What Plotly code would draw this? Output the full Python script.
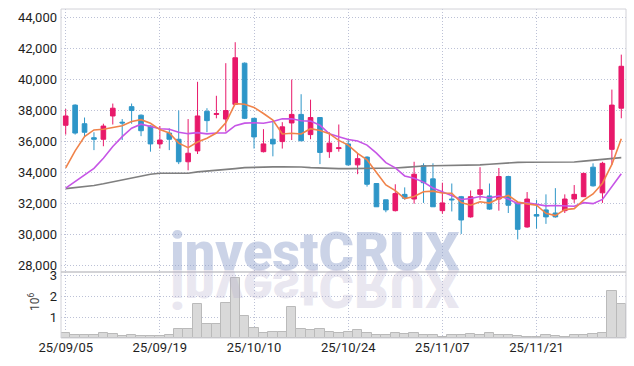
import plotly.graph_objects as go

dates = [
    "2025-09-05", "2025-09-08", "2025-09-09", "2025-09-10", "2025-09-11", "2025-09-12",
    "2025-09-15", "2025-09-16", "2025-09-17", "2025-09-18", "2025-09-19",
    "2025-09-22", "2025-09-23", "2025-09-24", "2025-09-25", "2025-09-26",
    "2025-09-29", "2025-09-30", "2025-10-01", "2025-10-02", "2025-10-10",
    "2025-10-13", "2025-10-14", "2025-10-15", "2025-10-16", "2025-10-17",
    "2025-10-20", "2025-10-21", "2025-10-22", "2025-10-23", "2025-10-24",
    "2025-10-27", "2025-10-28", "2025-10-29", "2025-10-30", "2025-10-31",
    "2025-11-03", "2025-11-04", "2025-11-05", "2025-11-06", "2025-11-07",
    "2025-11-10", "2025-11-11", "2025-11-12", "2025-11-13", "2025-11-14",
    "2025-11-17", "2025-11-18", "2025-11-19", "2025-11-20", "2025-11-21",
    "2025-11-24", "2025-11-25", "2025-11-26", "2025-11-27", "2025-11-28",
    "2025-12-01", "2025-12-02", "2025-12-03", "2025-12-04",
]

open_ = [37050, 38350, 37150, 36250, 36150, 37650, 37250, 38250, 37700, 37000,
         35850, 36550, 36150, 34700, 35400, 37950, 37750, 37450, 38400, 41050,
         37500, 35350, 36150, 36000, 37200, 37750, 36450, 37550, 35350, 35550,
         35850, 34500, 35000, 33300, 32250, 31550, 32600, 32300, 34450, 33600,
         31550, 32300, 32450, 31150, 32600, 32500, 32300, 33750, 32050, 30500,
         31300, 31600, 31400, 31550, 32300, 32450, 34350, 32700, 35500, 38150]
high = [38100, 38400, 37550, 36600, 37150, 38450, 37450, 38450, 37750, 37050,
        37000, 36850, 38000, 37450, 39850, 38150, 38950, 41050, 42400, 41100,
        37500, 36800, 37350, 37250, 40000, 39050, 38700, 37550, 36600, 37100,
        36150, 35200, 35050, 33300, 32250, 33250, 33050, 34700, 34600, 34600,
        33350, 33300, 32500, 32850, 34350, 33300, 34300, 33800, 32100, 32750,
        32250, 32600, 33000, 32600, 33200, 34000, 34600, 34700, 39350, 41600]
low = [36450, 36450, 36300, 35450, 35700, 37100, 36100, 37150, 36350, 35350,
       35550, 35450, 34550, 34150, 35200, 36600, 37500, 36650, 38400, 37450,
       35550, 35300, 35050, 35550, 36100, 36050, 36150, 34550, 34950, 35350,
       34450, 33900, 33100, 31800, 31450, 31500, 32250, 32000, 32050, 31800,
       31350, 31500, 30050, 31100, 32250, 31600, 31550, 31400, 29700, 30450,
       30400, 30700, 31100, 31400, 32050, 32450, 33100, 32050, 34500, 37500]
close = [37650, 36550, 36600, 36150, 37000, 38150, 37200, 38000, 36700, 35850,
         36100, 36150, 34700, 35250, 37650, 37350, 37800, 38000, 41400, 37500,
         36300, 35850, 35850, 36950, 37750, 36050, 37550, 35300, 35900, 35600,
         34500, 34900, 33250, 31800, 31600, 32650, 32350, 33900, 33350, 31800,
         32050, 32250, 30950, 32450, 32900, 31650, 33750, 31900, 30350, 32300,
         31200, 31150, 31150, 32300, 32600, 33950, 33150, 34600, 38350, 40850]

ma5 = [34300, 35400, 36320, 36750, 36790, 36890, 37020, 37300, 37410, 37180,
       36770, 36560, 35900, 35610, 35970, 36220, 36550, 37210, 38440, 38410,
       38200, 37810, 37380, 36490, 36540, 36490, 36830, 36720, 36510, 36080,
       35770, 35240, 34830, 34010, 33210, 32840, 32330, 32460, 32770, 32810,
       32690, 32670, 32080, 31900, 32120, 32040, 32340, 32530, 32110, 31990,
       31900, 31380, 31230, 31620, 31680, 32230, 32630, 33320, 34530, 36180]
ma10 = [33000, 33420, 33850, 34280, 34930, 35680, 36320, 36860, 37120, 36985,
        36830, 36790, 36600, 36510, 36575, 36495, 36555, 36555, 37025, 37190,
        37210, 37180, 37295, 37465, 37475, 37345, 37320, 37050, 36500, 36310,
        36130, 36035, 35775, 35260, 34645, 34305, 33785, 33645, 33390, 33010,
        32765, 32500, 32270, 32335, 32465, 32365, 32505, 32305, 32005, 32055,
        31970, 31860, 31880, 31865, 31835, 32065, 32005, 32275, 33075, 33930]
ma60 = [32970, 33030, 33100, 33170, 33280, 33400, 33530, 33650, 33780, 33900,
        33960, 33960, 33940, 33960, 34050, 34100, 34120, 34170, 34260, 34320,
        34350, 34360, 34370, 34380, 34390, 34360, 34320, 34290, 34270, 34260,
        34260, 34260, 34260, 34270, 34280, 34300, 34340, 34400, 34430, 34440,
        34450, 34450, 34460, 34480, 34500, 34540, 34590, 34630, 34660, 34670,
        34680, 34680, 34670, 34670, 34690, 34740, 34790, 34850, 34920, 34970]

volume_m = [0.23, 0.13, 0.13, 0.13, 0.23, 0.18, 0.08, 0.13, 0.08, 0.08,
            0.08, 0.15, 0.42, 0.42, 1.6, 0.67, 0.67, 1.69, 2.86, 1.06,
            0.47, 0.23, 0.29, 0.29, 1.5, 0.42, 0.37, 0.42, 0.29, 0.26,
            0.29, 0.37, 0.23, 0.13, 0.13, 0.23, 0.18, 0.23, 0.15, 0.13,
            0.07, 0.13, 0.13, 0.18, 0.13, 0.23, 0.13, 0.13, 0.08, 0.07,
            0.07, 0.13, 0.08, 0.07, 0.13, 0.13, 0.18, 0.23, 2.24, 1.6]
volume = [v * 1e6 for v in volume_m]

tick_idx = [0, 10, 20, 30, 40, 50]
tick_labels = ["25/09/05", "25/09/19", "25/10/10", "25/10/24", "25/11/07", "25/11/21"]
price_ticks = [28000, 30000, 32000, 34000, 36000, 38000, 40000, 42000, 44000]
vol_ticks = [1e6, 2e6, 3e6]
vol_tick_labels = ["1", "2", "3"]

UP = "#E8196A"
DOWN = "#2E96C8"
GRID = "#bcc1d6"
GRIDDASH = "1px,2px"
FONT = "Roboto"
TICKFONT = dict(family=FONT, size=13, color="#1e1e1e")

fig = go.Figure()

fig.add_trace(go.Bar(
    x=dates, y=volume, xaxis="x", yaxis="y2",
    marker=dict(color="#d9d9d9", line=dict(color="#bababa", width=1)),
    showlegend=False, hoverinfo="skip",
))

fig.add_trace(go.Candlestick(
    x=dates, open=open_, high=high, low=low, close=close,
    xaxis="x", yaxis="y",
    increasing=dict(line=dict(color=UP, width=1), fillcolor=UP),
    decreasing=dict(line=dict(color=DOWN, width=1), fillcolor=DOWN),
    showlegend=False,
))

for vals, col in [(ma60, "#7f7f7f"), (ma10, "#C655E6"), (ma5, "#F0834A")]:
    fig.add_trace(go.Scatter(
        x=dates, y=vals, mode="lines", xaxis="x", yaxis="y",
        line=dict(color=col, width=1.6), showlegend=False, hoverinfo="skip",
    ))

split = 66 / 329

fig.update_layout(
    width=634, height=366,
    margin=dict(l=61, r=8, t=9, b=28, autoexpand=False),
    paper_bgcolor="white", plot_bgcolor="white",
    bargap=0,
    font=dict(family=FONT, size=13, color="#222"),
    xaxis=dict(
        type="category", range=[-0.5, 59.5], anchor="y2", automargin=False,
        tickvals=[dates[i] for i in tick_idx], ticktext=tick_labels,
        showgrid=True, gridcolor=GRID, griddash=GRIDDASH, gridwidth=1,
        rangeslider=dict(visible=False), ticks="", zeroline=False,
        tickfont=TICKFONT,
    ),
    yaxis=dict(
        domain=[split, 1], range=[27600, 44540], automargin=False,
        tickvals=price_ticks, tickformat=",d", ticklabelstandoff=3,
        showgrid=True, gridcolor=GRID, griddash=GRIDDASH, gridwidth=1,
        zeroline=False, ticks="",
        tickfont=TICKFONT,
    ),
    yaxis2=dict(
        domain=[0, split], range=[0, 3.15e6], automargin=False,
        tickvals=vol_ticks, ticktext=vol_tick_labels, ticklabelstandoff=3,
        showgrid=True, gridcolor=GRID, griddash=GRIDDASH, gridwidth=1,
        zeroline=False, ticks="",
        tickfont=TICKFONT,
    ),
    shapes=[
        dict(type="rect", xref="paper", yref="paper", x0=0, x1=1, y0=0, y1=1,
             line=dict(color="#d2d2d8", width=1), layer="above"),
        dict(type="line", xref="paper", yref="paper", x0=0, x1=1, y0=split, y1=split,
             line=dict(color="#c4c4c8", width=1.5), layer="above"),
    ],
    annotations=[
        dict(text="10<sup>6</sup>", xref="paper", yref="paper", x=-0.049, y=split / 2 + 0.01,
             xanchor="center", yanchor="middle", showarrow=False, textangle=-90,
             font=dict(family=FONT, size=12, color="#444")),
        dict(text="investCRUX", xref="paper", yref="paper", x=0.4496, y=0.262,
             xanchor="center", yanchor="middle", showarrow=False,
             font=dict(family=FONT, size=54, weight=900, color="rgba(140,158,202,0.45)")),
        dict(text="investCRUX", xref="paper", yref="paper", x=0.4496, y=0.262,
             xanchor="center", yanchor="middle", showarrow=False,
             font=dict(family=FONT, size=54, weight=900, color="rgba(180,172,205,0.28)")),
    ],
)

flip_js = """
document.documentElement.style.margin = '0';
document.body.style.margin = '0';
document.body.style.padding = '0';
var gd = document.getElementById('{plot_id}');
var g = gd.querySelector('g.annotation[data-index="2"]');
if (g) {
  var t = g.querySelector('text');
  if (t) {
    var y = parseFloat(t.getAttribute('y')) || 0;
    t.setAttribute('transform', 'translate(0,' + (2 * y) + ') scale(1,-1)');
  }
}
"""

fig.write_html("out.html", post_script=flip_js, config={"displayModeBar": False})
